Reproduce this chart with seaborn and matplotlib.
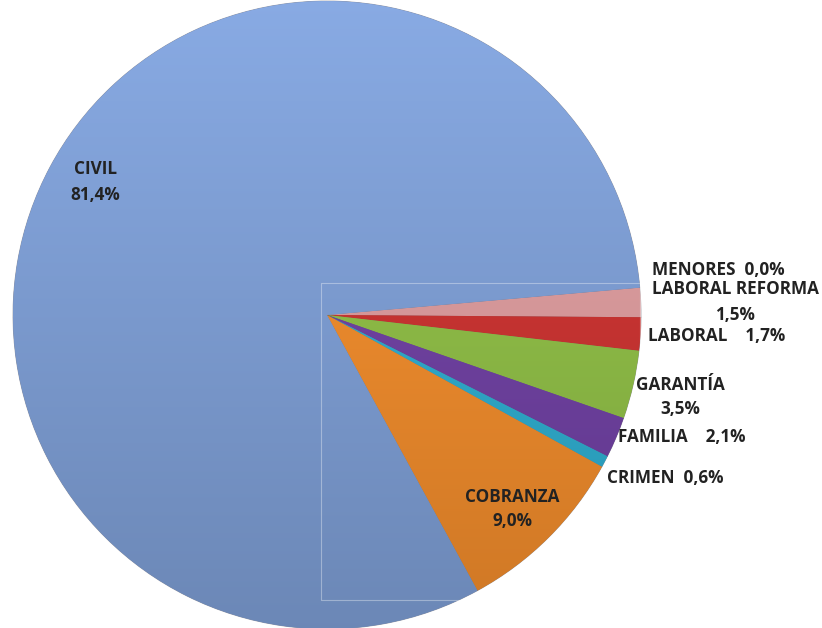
import matplotlib
matplotlib.use("Agg")
import matplotlib.pyplot as plt
import numpy as np
import seaborn as sns
from matplotlib.colors import to_rgb

# ---- data (clockwise from just above east) ----
categories = ["MENORES", "LABORAL REFORMA", "LABORAL", "GARANTÍA", "FAMILIA",
              "CRIMEN", "COBRANZA", "CIVIL"]
values = [0.0, 1.5, 1.7, 3.5, 2.1, 0.6, 9.0, 81.4]
label_texts = ["MENORES  0,0%", "LABORAL REFORMA\n1,5%", "LABORAL    1,7%",
               "GARANTÍA\n3,5%", "FAMILIA    2,1%", "CRIMEN  0,6%",
               "COBRANZA\n9,0%", "CIVIL\n81,4%"]

# ---- style ----
sns.set_theme(style="white")
plt.rcParams["font.family"] = ["Open Sans", "DejaVu Sans"]

colors = ["#8FA9D8", "#D9999B", "#C83230", "#8DBB45", "#6E40A0",
          "#2EAACB", "#EE8A2B", "#7C9CD2"]
# label anchor positions in pixel space (x, y from top), and alignment
label_pos = [(652, 270, "left"), (735, 302, "center"), (648, 336, "left"),
             (680, 397, "center"), (618, 437, "left"), (607, 478, "left"),
             (512, 509, "center"), (95, 182, "center")]

W, H = 822, 628
fig = plt.figure(figsize=(W / 100, H / 100), dpi=100)
ax = fig.add_axes([0, 0, 1, 1])

cx, cy, r = 327, H - 315, 314
wedges, _ = ax.pie(values, colors=colors, startangle=5, counterclock=False,
                   center=(cx, cy), radius=r, frame=True,
                   wedgeprops=dict(linewidth=0.6, edgecolor=(0.3, 0.3, 0.35, 0.5)))

# gradient shading on each wedge
yy = np.linspace(1, 0, 256)[:, None]
for w, c in zip(wedges, colors):
    base = np.array(to_rgb(c))
    light = np.clip(base * 1.06 + 0.02, 0, 1)
    dark = base * 0.87
    grad = dark[None, None, :] * (1 - yy[..., None]) + light[None, None, :] * yy[..., None]
    grad = np.repeat(grad, 2, axis=1)
    im = ax.imshow(grad, extent=(cx - r, cx + r, cy - r, cy + r), origin="upper",
                   aspect="auto", zorder=w.get_zorder() + 0.1, interpolation="bilinear")
    im.set_clip_path(w)
ax.set_xlim(0, W)
ax.set_ylim(0, H)
ax.set_aspect("equal")
ax.axis("off")

# faint plot-area frame
ax.plot([321, 640, 640, 321, 321], [H - 283, H - 283, H - 600, H - 600, H - 283],
        color="white", alpha=0.35, lw=0.8, zorder=5)

for txt, (x, y, ha) in zip(label_texts, label_pos):
    ax.text(x, H - y, txt, ha=ha, va="center", fontsize=12.3, fontweight="bold",
            color="#222222", linespacing=1.5, zorder=10)

fig.savefig("out.png", dpi=100)
